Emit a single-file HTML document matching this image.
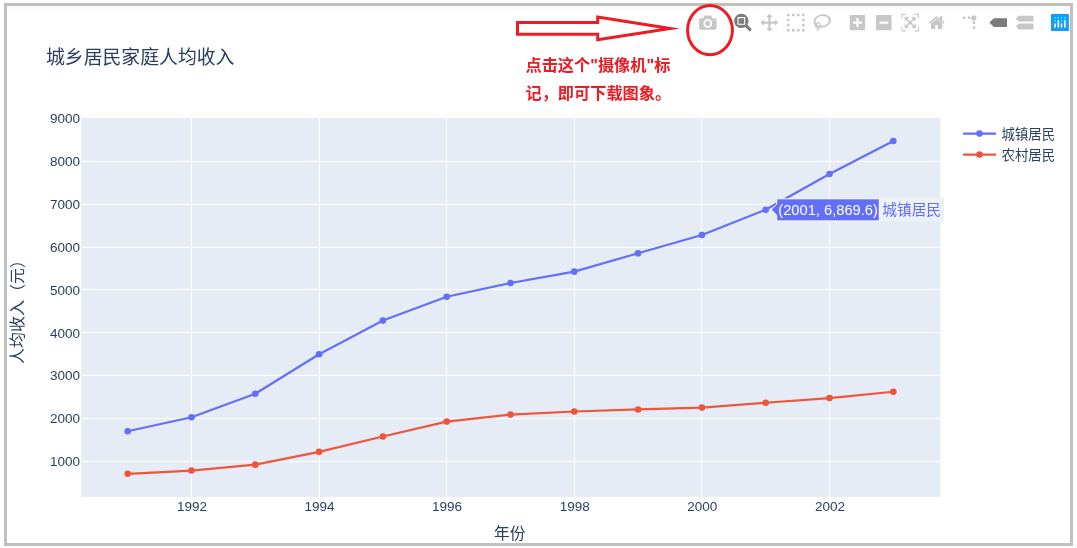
<!DOCTYPE html>
<html lang="zh-CN"><head><meta charset="utf-8"><title>城乡居民家庭人均收入</title>
<style>
html,body{margin:0;padding:0;background:#fff;}
body{width:1077px;height:548px;overflow:hidden;position:relative;font-family:"Liberation Sans","Noto Sans CJK SC",sans-serif;}
#frame{position:absolute;left:4px;top:3px;width:1063px;height:537px;border:3px solid #c0c0c0;background:#fff;}
svg{position:absolute;left:0;top:0;}
text{font-family:"Liberation Sans","Noto Sans CJK SC",sans-serif;}
.tick{font-size:13.5px;fill:#2a3f5f;}
.note{position:absolute;left:525.5px;top:52px;width:150px;font-size:16.2px;line-height:27.6px;font-weight:bold;color:#ed1c24;white-space:nowrap;}
</style></head><body>
<div id="frame"></div>
<svg width="1077" height="548" viewBox="0 0 1077 548">

<rect x="7" y="6" width="1063" height="4" fill="#fcfcfc"/><rect x="1074" y="4" width="3" height="544" fill="#fcfcfc"/>
<rect x="81.0" y="118.0" width="859.3" height="378.9" fill="#e5ecf6"/>
<g fill="#fff" shape-rendering="crispEdges">
<rect x="191" y="118.0" width="1" height="378.9"/>
<rect x="319" y="118.0" width="1" height="378.9"/>
<rect x="446" y="118.0" width="1" height="378.9"/>
<rect x="574" y="118.0" width="1" height="378.9"/>
<rect x="701" y="118.0" width="1" height="378.9"/>
<rect x="829" y="118.0" width="1" height="378.9"/>
<rect x="81.0" y="461" width="859.3" height="1"/>
<rect x="81.0" y="418" width="859.3" height="1"/>
<rect x="81.0" y="375" width="859.3" height="1"/>
<rect x="81.0" y="332" width="859.3" height="1"/>
<rect x="81.0" y="289" width="859.3" height="1"/>
<rect x="81.0" y="247" width="859.3" height="1"/>
<rect x="81.0" y="204" width="859.3" height="1"/>
<rect x="81.0" y="161" width="859.3" height="1"/>
</g>
<polyline points="127.70,431.27 191.50,417.30 255.30,393.69 319.10,354.31 382.90,320.59 446.70,296.76 510.50,282.99 574.30,271.64 638.10,253.26 701.90,235.00 765.70,209.73 829.50,174.02 893.30,141.04" fill="none" stroke="#636efa" stroke-width="2.2" stroke-linejoin="round"/>
<circle cx="127.70" cy="431.27" r="3.3" fill="#636efa"/>
<circle cx="191.50" cy="417.30" r="3.3" fill="#636efa"/>
<circle cx="255.30" cy="393.69" r="3.3" fill="#636efa"/>
<circle cx="319.10" cy="354.31" r="3.3" fill="#636efa"/>
<circle cx="382.90" cy="320.59" r="3.3" fill="#636efa"/>
<circle cx="446.70" cy="296.76" r="3.3" fill="#636efa"/>
<circle cx="510.50" cy="282.99" r="3.3" fill="#636efa"/>
<circle cx="574.30" cy="271.64" r="3.3" fill="#636efa"/>
<circle cx="638.10" cy="253.26" r="3.3" fill="#636efa"/>
<circle cx="701.90" cy="235.00" r="3.3" fill="#636efa"/>
<circle cx="765.70" cy="209.73" r="3.3" fill="#636efa"/>
<circle cx="829.50" cy="174.02" r="3.3" fill="#636efa"/>
<circle cx="893.30" cy="141.04" r="3.3" fill="#636efa"/>
<polyline points="127.70,473.79 191.50,470.56 255.30,464.66 319.10,451.83 382.90,436.54 446.70,421.61 510.50,414.58 574.30,411.50 638.10,409.43 701.90,407.58 765.70,402.74 829.50,398.06 893.30,391.77" fill="none" stroke="#ef553b" stroke-width="2.2" stroke-linejoin="round"/>
<circle cx="127.70" cy="473.79" r="3.3" fill="#ef553b"/>
<circle cx="191.50" cy="470.56" r="3.3" fill="#ef553b"/>
<circle cx="255.30" cy="464.66" r="3.3" fill="#ef553b"/>
<circle cx="319.10" cy="451.83" r="3.3" fill="#ef553b"/>
<circle cx="382.90" cy="436.54" r="3.3" fill="#ef553b"/>
<circle cx="446.70" cy="421.61" r="3.3" fill="#ef553b"/>
<circle cx="510.50" cy="414.58" r="3.3" fill="#ef553b"/>
<circle cx="574.30" cy="411.50" r="3.3" fill="#ef553b"/>
<circle cx="638.10" cy="409.43" r="3.3" fill="#ef553b"/>
<circle cx="701.90" cy="407.58" r="3.3" fill="#ef553b"/>
<circle cx="765.70" cy="402.74" r="3.3" fill="#ef553b"/>
<circle cx="829.50" cy="398.06" r="3.3" fill="#ef553b"/>
<circle cx="893.30" cy="391.77" r="3.3" fill="#ef553b"/>
<text class="tick" x="80" y="466.10" text-anchor="end">1000</text>
<text class="tick" x="80" y="423.24" text-anchor="end">2000</text>
<text class="tick" x="80" y="380.38" text-anchor="end">3000</text>
<text class="tick" x="80" y="337.52" text-anchor="end">4000</text>
<text class="tick" x="80" y="294.66" text-anchor="end">5000</text>
<text class="tick" x="80" y="251.80" text-anchor="end">6000</text>
<text class="tick" x="80" y="208.94" text-anchor="end">7000</text>
<text class="tick" x="80" y="166.08" text-anchor="end">8000</text>
<text class="tick" x="80" y="123.22" text-anchor="end">9000</text>
<text class="tick" x="191.90" y="511" text-anchor="middle">1992</text>
<text class="tick" x="319.50" y="511" text-anchor="middle">1994</text>
<text class="tick" x="447.10" y="511" text-anchor="middle">1996</text>
<text class="tick" x="574.70" y="511" text-anchor="middle">1998</text>
<text class="tick" x="702.30" y="511" text-anchor="middle">2000</text>
<text class="tick" x="829.90" y="511" text-anchor="middle">2002</text>
<text x="46" y="63.5" font-size="18.85" fill="#2a3f5f">城乡居民家庭人均收入</text>
<text x="509.7" y="539" font-size="15.7" fill="#2a3f5f" text-anchor="middle">年份</text>
<text transform="translate(23,308) rotate(-90)" font-size="16" fill="#2a3f5f" text-anchor="middle">人均收入（元）</text>
<line x1="963" x2="996" y1="133.6" y2="133.6" stroke="#636efa" stroke-width="2.2"/>
<circle cx="979.5" cy="133.6" r="3.3" fill="#636efa"/>
<text x="1001.5" y="138.9" font-size="13.4" fill="#2a3f5f">城镇居民</text>
<line x1="963" x2="996" y1="154.6" y2="154.6" stroke="#ef553b" stroke-width="2.2"/>
<circle cx="979.5" cy="154.6" r="3.3" fill="#ef553b"/>
<text x="1001.5" y="159.9" font-size="13.4" fill="#2a3f5f">农村居民</text>
<rect x="879.3" y="197.5" width="64.7" height="24.2" fill="#edf1f8"/>
<path d="M771.20,209.73 L776.70,204.23 V198.8 H879.3 V220.9 H776.70 V215.23 Z" fill="#636efa" stroke="#fff" stroke-width="1"/>
<text x="778.3" y="215" font-size="14.7" fill="#fff">(2001, 6,869.6)</text>
<text x="882.3" y="215.2" font-size="14.7" fill="#636efa">城镇居民</text>
<path d="M517.5,22.5 H597.7 V17.1 L670.2,28.4 L597.7,39.7 V34.3 H517.5 Z" fill="none" stroke="#ed1c24" stroke-width="3" stroke-linejoin="miter" stroke-miterlimit="10"/>
<ellipse cx="710" cy="30.2" rx="22.4" ry="24.6" fill="none" stroke="#ed1c24" stroke-width="3"/>
<path transform="translate(699.00,13.80) scale(0.017600) matrix(1 0 0 -1 0 850)" d="m500 450c-83 0-150-67-150-150 0-83 67-150 150-150 83 0 150 67 150 150 0 83-67 150-150 150z m400 150h-120c-16 0-34 13-39 29l-31 93c-6 15-23 28-40 28h-340c-16 0-34-13-39-28l-31-94c-6-15-23-28-40-28h-120c-55 0-100-45-100-100v-450c0-55 45-100 100-100h800c55 0 100 45 100 100v450c0 55-45 100-100 100z m-400-550c-138 0-250 112-250 250 0 138 112 250 250 250 138 0 250-112 250-250 0-138-112-250-250-250z m365 380c-19 0-35 16-35 35 0 19 16 35 35 35 19 0 35-16 35-35 0-19-16-35-35-35z" fill="#c7c7c7"/>
<path transform="translate(734.20,13.80) scale(0.017600) matrix(1 0 0 -1 0 850)" d="m1000-25l-250 251c40 63 63 138 63 218 0 224-182 406-407 406-224 0-406-182-406-406s183-406 407-406c80 0 155 22 218 62l250-250 125 125z m-812 250l0 438 437 0 0-438-437 0z m62 375l313 0 0-312-313 0 0 312z" fill="#7c7c7c"/>
<path transform="translate(760.60,13.80) scale(0.017600) matrix(1 0 0 -1 0 850)" d="m1000 350l-187 188 0-125-250 0 0 250 125 0-188 187-187-187 125 0 0-250-250 0 0 125-188-188 186-187 0 125 252 0 0-250-125 0 187-188 188 188-125 0 0 250 250 0 0-126 187 188z" fill="#c7c7c7"/>
<path transform="translate(787.00,13.80) scale(0.017600) matrix(1 0 0 -1 0 850)" d="m0 850l0-143 143 0 0 143-143 0z m286 0l0-143 143 0 0 143-143 0z m285 0l0-143 143 0 0 143-143 0z m286 0l0-143 143 0 0 143-143 0z m-857-286l0-143 143 0 0 143-143 0z m857 0l0-143 143 0 0 143-143 0z m-857-285l0-143 143 0 0 143-143 0z m857 0l0-143 143 0 0 143-143 0z m-857-286l0-143 143 0 0 143-143 0z m286 0l0-143 143 0 0 143-143 0z m285 0l0-143 143 0 0 143-143 0z m286 0l0-143 143 0 0 143-143 0z" fill="#c7c7c7"/>
<path transform="translate(813.40,14.06) scale(0.017071) matrix(1 0 0 -1 0 850)" d="m1018 538c-36 207-290 336-568 286-277-48-473-256-436-463 10-57 36-108 76-151-13-66 11-137 68-183 34-28 75-41 114-42l-55-70 0 0c-2-1-3-2-4-3-10-14-8-34 5-45 14-11 34-8 45 4 1 1 2 3 2 5l0 0 113 140c16 11 31 24 45 40 4 3 6 7 8 11 48-3 100 0 151 9 278 48 473 255 436 462z m-624-379c-80 14-149 48-197 96 42 42 109 47 156 9 33-26 47-66 41-105z m-187-74c-19 16-33 37-39 60 50-32 109-55 174-68-42-25-95-24-135 8z m360 75c-34-7-69-9-102-8 8 62-16 128-68 170-73 59-175 54-244-5-9 20-16 40-20 61-28 159 121 317 333 354s407-60 434-217c28-159-121-318-333-355z" fill="#c7c7c7"/>
<path transform="translate(849.70,13.80) scale(0.017600) matrix(1 0 0 -1 0 850)" d="m1 787l0-875 875 0 0 875-875 0z m687-500l-187 0 0-187-125 0 0 187-188 0 0 125 188 0 0 187 125 0 0-187 187 0 0-125z" fill="#c7c7c7"/>
<path transform="translate(876.10,13.80) scale(0.017600) matrix(1 0 0 -1 0 850)" d="m0 788l0-876 875 0 0 876-875 0z m688-500l-500 0 0 125 500 0 0-125z" fill="#c7c7c7"/>
<path transform="translate(901.40,13.80) scale(0.017600) matrix(1 0 0 -1 0 850)" d="m250 850l-187 0-63 0 0-62 0-188 63 0 0 188 187 0 0 62z m688 0l-188 0 0-62 188 0 0-188 62 0 0 188 0 62-62 0z m-875-938l0 188-63 0 0-188 0-62 63 0 187 0 0 62-187 0z m875 188l0-188-188 0 0-62 188 0 62 0 0 62 0 188-62 0z m-125 188l-1 0-93-94-156 156 156 156 92-93 2 0 0 250-250 0 0-2 93-92-156-156-156 156 94 92 0 2-250 0 0-250 0 0 93 93 157-156-157-156-93 94 0 0 0-250 250 0 0 0-94 93 156 157 156-157-93-93 0 0 250 0 0 250z" fill="#c7c7c7"/>
<path transform="translate(928.43,13.80) scale(0.017600) matrix(1 0 0 -1 0 850)" d="m786 296v-267q0-15-11-26t-25-10h-214v214h-143v-214h-214q-15 0-25 10t-11 26v267q0 1 0 2t0 2l321 264 321-264q1-1 1-4z m124 39l-34-41q-5-5-12-6h-2q-7 0-12 3l-386 322-386-322q-7-4-13-4-7 2-12 7l-35 41q-4 5-3 13t6 12l401 334q18 15 42 15t43-15l136-114v109q0 8 5 13t13 5h107q8 0 13-5t5-13v-227l122-102q5-5 6-12t-4-13z" fill="#c7c7c7"/>
<path transform="translate(963.00,13.80) scale(0.017600) matrix(1.5 0 0 -1.5 0 850)" d="M512 409c0-57-46-104-103-104-57 0-104 47-104 104 0 57 47 103 104 103 57 0 103-46 103-103z m-327-39l92 0 0 92-92 0z m-185 0l92 0 0 92-92 0z m370-186l92 0 0 93-92 0z m0-184l92 0 0 92-92 0z" fill="#c7c7c7"/>
<path transform="translate(989.40,16.73) scale(0.011733) matrix(1 0 0 -1 0 850)" d="m375 725l0 0-375-375 375-374 0-1 1125 0 0 750-1125 0z" fill="#7c7c7c"/>
<path transform="translate(1015.80,14.78) scale(0.015644) matrix(1 0 0 -1 0 850)" d="m187 786l0 2-187-188 188-187 0 0 937 0 0 373-938 0z m0-499l0 1-187-188 188-188 0 0 937 0 0 376-938-1z" fill="#c7c7c7"/>
<g transform="translate(1051,13.9) scale(0.1356060606060606,0.12878787878787878)"><rect width="132" height="132" rx="4" ry="4" fill="#119dff"/>
<g fill="#25fefd"><circle cx="78" cy="54" r="6.8"/><circle cx="102" cy="30" r="6.8"/><circle cx="78" cy="30" r="6.8"/><circle cx="54" cy="30" r="6.8"/><circle cx="30" cy="30" r="6.8"/><circle cx="30" cy="54" r="6.8"/></g>
<g fill="#fff"><path d="M30,72a6,6,0,0,0-6,6v24a6,6,0,0,0,12,0V78A6,6,0,0,0,30,72Z"/><path d="M78,72a6,6,0,0,0-6,6v24a6,6,0,0,0,12,0V78A6,6,0,0,0,78,72Z"/><path d="M54,48a6,6,0,0,0-6,6v48a6,6,0,0,0,12,0V54A6,6,0,0,0,54,48Z"/><path d="M102,48a6,6,0,0,0-6,6v48a6,6,0,0,0,12,0V54A6,6,0,0,0,102,48Z"/></g></g>
</svg>
<div class="note">点击这个"摄像机"标<br>记，即可下载图象。</div>
</body></html>
